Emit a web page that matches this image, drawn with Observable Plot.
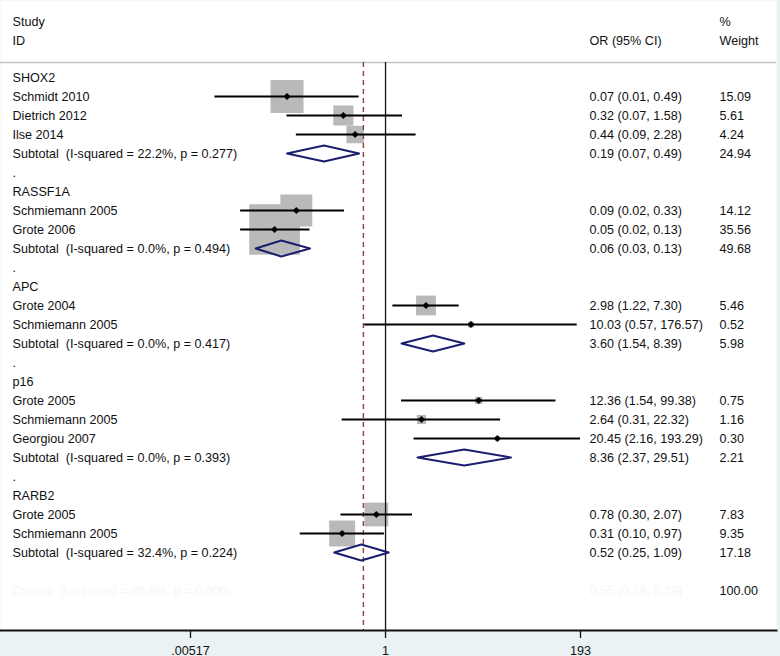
<!DOCTYPE html>
<html><head><meta charset="utf-8">
<script src="https://cdn.jsdelivr.net/npm/d3@7"></script>
<script src="https://cdn.jsdelivr.net/npm/@observablehq/plot@0.6"></script>
<style>
body{margin:0;background:#fff;}
#chart svg text{white-space:pre;}
</style></head><body><div id="chart"></div>
<script>
const groups = ["SHOX2","RASSF1A","APC","p16","RARB2"];
const studyGroup = [0,0,0,1,1,2,2,3,3,3,4,4];
const studyNames = ["Schmidt 2010","Dietrich 2012","Ilse 2014","Schmiemann 2005","Grote 2006","Grote 2004","Schmiemann 2005","Grote 2005","Schmiemann 2005","Georgiou 2007","Grote 2005","Schmiemann 2005"];
const studyOR = [0.07,0.32,0.44,0.09,0.05,2.98,10.03,12.36,2.64,20.45,0.78,0.31];
const studyLo = [0.01,0.07,0.09,0.02,0.02,1.22,0.57,1.54,0.31,2.16,0.30,0.10];
const studyHi = [0.49,1.58,2.28,0.33,0.13,7.30,176.57,99.38,22.32,193.29,2.07,0.97];
const studyWeight = [15.09,5.61,4.24,14.12,35.56,5.46,0.52,0.75,1.16,0.30,7.83,9.35];
const subI2 = ["22.2","0.0","0.0","0.0","32.4"];
const subP = ["0.277","0.494","0.417","0.393","0.224"];
const subOR = [0.19,0.06,3.60,8.36,0.52];
const subLo = [0.07,0.03,1.54,2.37,0.25];
const subHi = [0.49,0.13,8.39,29.51,1.09];
const subWeight = [24.94,49.68,5.98,2.21,17.18];
const overallLabel = "Overall  (I-squared = 85.6%, p = 0.000)";
const overallOR = 0.55;
const overallCI = "0.55 (0.38, 0.79)";
const overallWeight = "100.00";
const tickValues = [0.00517, 1, 193];
const tickLabels = [".00517", "1", "193"];

const f2 = d3.format(".2f");
const textRows = [], studies = [], subs = [];
let r = 0;
groups.forEach((g, gi) => {
  if (gi > 0) { textRows.push({row: r, label: "."}); r++; }
  textRows.push({row: r, label: g}); r++;
  studyGroup.forEach((sg, i) => {
    if (sg !== gi) return;
    const d = {row: r, label: studyNames[i], or: studyOR[i], lo: studyLo[i], hi: studyHi[i], w: studyWeight[i]};
    d.ci = `${f2(d.or)} (${f2(d.lo)}, ${f2(d.hi)})`; d.wt = f2(d.w);
    studies.push(d); textRows.push(d); r++;
  });
  const s = {row: r, label: `Subtotal  (I-squared = ${subI2[gi]}%, p = ${subP[gi]})`, or: subOR[gi], lo: subLo[gi], hi: subHi[gi], w: subWeight[gi]};
  s.ci = `${f2(s.or)} (${f2(s.lo)}, ${f2(s.hi)})`; s.wt = f2(s.w);
  subs.push(s); textRows.push(s); r++;
});
const overallRow = r + 1;
const half = 0.42;
const diamonds = subs.flatMap((s, k) => [
  {k, x: s.lo, y: s.row}, {k, x: s.or, y: s.row - half}, {k, x: s.hi, y: s.row}, {k, x: s.or, y: s.row + half}
]);
const ticks = tickValues.map((v, i) => ({v, label: tickLabels[i]}));

const font = "'Liberation Sans', Arial, Helvetica, sans-serif";
const txt = {frameAnchor: "left", textAnchor: "start", lineAnchor: "middle", fill: "#111"};
const plot = Plot.plot({
  width: 780, height: 656,
  marginTop: 0, marginLeft: 0, marginRight: 4, marginBottom: 26,
  style: {background: "#eaf2f3", fontFamily: font, fontSize: "12.6px", color: "#111", overflow: "visible"},
  x: {type: "log", domain: [0.00517, 193], range: [190, 580], axis: null},
  y: {domain: [0, overallRow], range: [77, 590], axis: null},
  r: {type: "sqrt", domain: [0, 100], range: [0, 47.9]},
  marks: [
    Plot.frame({fill: "white", stroke: "none"}),
    Plot.ruleY([0], {dy: -15, stroke: "#c4c4c4", strokeWidth: 1.6}),
    Plot.dot(studies, {x: "or", y: "row", r: "w", symbol: "square", fill: "#b9b9b9", stroke: "none"}),
    Plot.ruleX([1], {insetTop: 62, stroke: "#111", strokeWidth: 1.3}),
    Plot.ruleX([overallOR], {insetTop: 62, stroke: "#8a3e3e", strokeWidth: 1.4, strokeDasharray: "5,4"}),
    Plot.ruleY(studies, {y: "row", x1: "lo", x2: "hi", stroke: "#000", strokeWidth: 2}),
    Plot.dot(studies, {x: "or", y: "row", r: 3.2, symbol: "diamond2", fill: "#000", stroke: "none"}),
    Plot.line(diamonds, {x: "x", y: "y", z: "k", curve: "linear-closed", stroke: "#1b1f6e", strokeWidth: 2, fill: "none"}),
    Plot.text(["Study"], {...txt, frameAnchor: "top-left", text: d => d, dx: 12, dy: 21}),
    Plot.text(["ID"], {...txt, frameAnchor: "top-left", text: d => d, dx: 12, dy: 40}),
    Plot.text(["OR (95% CI)"], {...txt, frameAnchor: "top-left", text: d => d, dx: 589, dy: 40}),
    Plot.text(["%"], {...txt, frameAnchor: "top-left", text: d => d, dx: 719, dy: 21}),
    Plot.text(["Weight"], {...txt, frameAnchor: "top-left", text: d => d, dx: 719, dy: 40}),
    Plot.text(textRows, {...txt, y: "row", text: "label", dx: 12}),
    Plot.text(textRows.filter(d => d.ci), {...txt, y: "row", text: "ci", dx: 589}),
    Plot.text(textRows.filter(d => d.wt), {...txt, y: "row", text: "wt", dx: 719}),
    Plot.text([overallLabel], {...txt, y: [overallRow], text: d => d, dx: 12, fill: "#f6f6f6"}),
    Plot.text([overallCI], {...txt, y: [overallRow], text: d => d, dx: 589, fill: "#f6f6f6"}),
    Plot.text([overallWeight], {...txt, y: [overallRow], text: d => d, dx: 719}),
    Plot.frame({anchor: "bottom", stroke: "#111", strokeWidth: 2}),
    Plot.ruleX(ticks, {x: "v", insetTop: 630, insetBottom: -8, stroke: "#111", strokeWidth: 1.3}),
    Plot.text(ticks, {x: "v", text: "label", frameAnchor: "bottom", lineAnchor: "middle", dy: 20, fill: "#111"})
  ]
});
document.getElementById("chart").appendChild(plot);
</script></body></html>
